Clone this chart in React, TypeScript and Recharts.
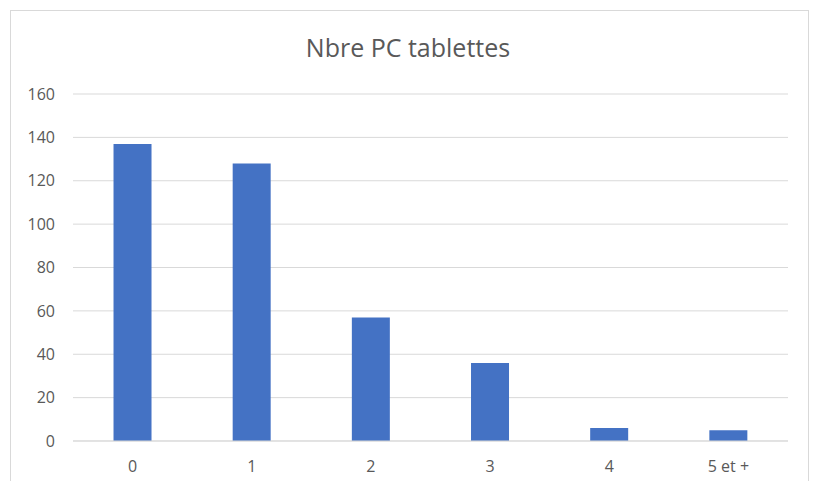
import { Bar, BarChart, CartesianGrid, XAxis, YAxis } from 'recharts';

const categories = ['0', '1', '2', '3', '4', '5 et +'];
const counts = [137, 128, 57, 36, 6, 5];
const yTicks = [0, 20, 40, 60, 80, 100, 120, 140, 160];

const chartData = categories.map((label, i) => ({ label, value: counts[i] }));

const FONT = '"Open Sans", sans-serif';
const TEXT = '#595959';

export default function App() {
  return (
    <div style={{ position: 'fixed', left: 0, top: 0, width: 816, height: 481, background: '#fff', overflow: 'hidden' }}>
      <div
        style={{
          position: 'absolute',
          left: 10,
          top: 10,
          width: 797,
          height: 490,
          border: '1px solid #d9d9d9',
        }}
      />
      <div
        style={{
          position: 'absolute',
          left: 0,
          top: 30,
          width: 816,
          textAlign: 'center',
          fontFamily: FONT,
          fontSize: 25,
          color: TEXT,
        }}
      >
        Nbre PC tablettes
      </div>
      <div style={{ position: 'absolute', left: 0, top: 0 }}>
        <BarChart
          width={816}
          height={481}
          data={chartData}
          margin={{ top: 94, right: 28, bottom: 10, left: 13 }}
          barCategoryGap="34%"
        >
          <CartesianGrid vertical={false} stroke="#d9d9d9" strokeWidth={1} />
          <XAxis
            dataKey="label"
            height={30}
            axisLine={{ stroke: '#d9d9d9' }}
            tickLine={false}
            tick={{ fill: TEXT, fontSize: 16, fontFamily: FONT }}
            tickMargin={14}
          />
          <YAxis
            domain={[0, 160]}
            ticks={yTicks}
            axisLine={false}
            tickLine={false}
            width={60}
            tick={{ fill: TEXT, fontSize: 16, fontFamily: FONT }}
            tickMargin={12}
          />
          <Bar dataKey="value" fill="#4472C4" isAnimationActive={false} />
        </BarChart>
      </div>
    </div>
  );
}
